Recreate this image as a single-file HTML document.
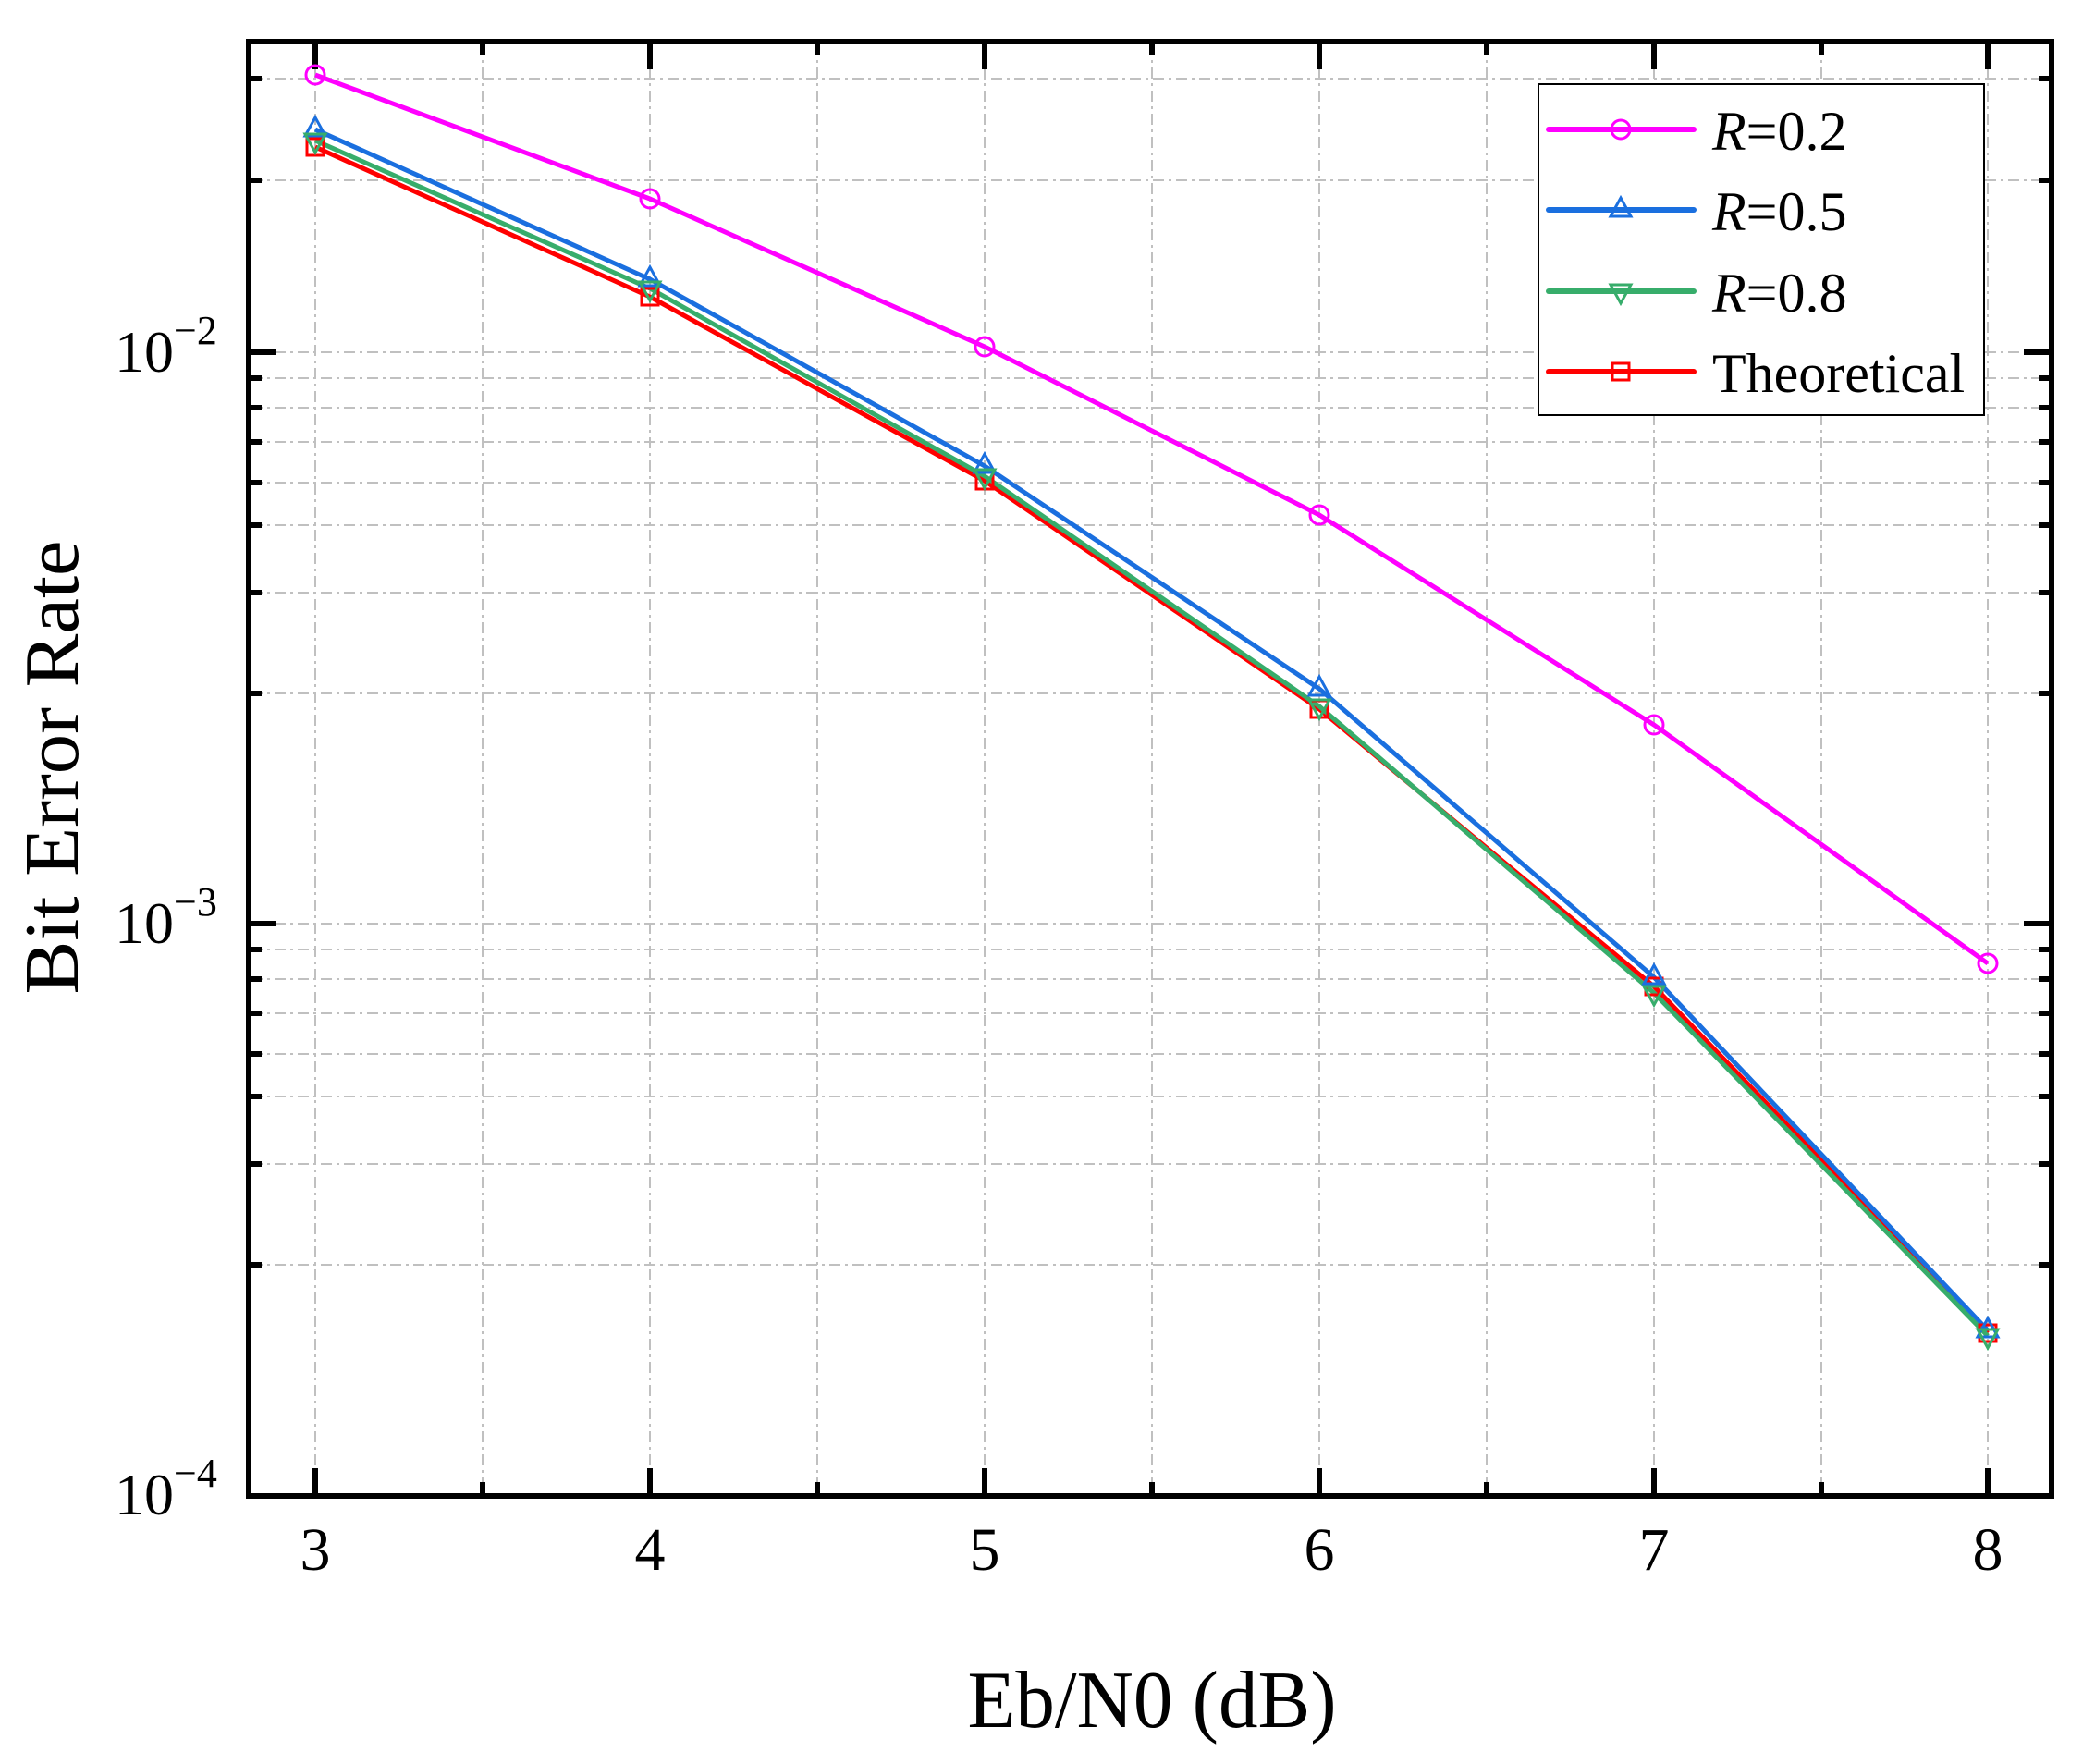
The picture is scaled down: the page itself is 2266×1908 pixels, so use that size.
<!DOCTYPE html>
<html><head><meta charset="utf-8"><style>html,body{margin:0;padding:0;background:#fff}svg{display:block}</style></head>
<body>
<svg width="2266" height="1908" viewBox="0 0 2266 1908" xmlns="http://www.w3.org/2000/svg" font-family="Liberation Serif, serif">
<rect width="2266" height="1908" fill="#fff"/>
<g stroke="#c0c0c0" stroke-width="2" stroke-dasharray="12,5,3,5" fill="none">
<path d="M522 48V1615M884 48V1615M1246 48V1615M1608 48V1615M1970 48V1615"/>
<path d="M341 48V1615M703 48V1615M1065 48V1615M1427 48V1615M1789 48V1615M2150 48V1615"/>
<path d="M272 85H2219M272 195H2219M272 381H2219M272 409H2219M272 441H2219M272 478H2219M272 522H2219M272 568H2219M272 641H2219M272 750H2219M272 999H2219M272 1027H2219M272 1059H2219M272 1096H2219M272 1140H2219M272 1186H2219M272 1259H2219M272 1368H2219"/>
</g>
<g stroke="#000" stroke-width="6" fill="none">
<rect x="269" y="45" width="1950" height="1573"/>
<path d="M341 1618v-30M703 1618v-30M1065 1618v-30M1427 1618v-30M1789 1618v-30M2150 1618v-30M522 1618v-15M884 1618v-15M1246 1618v-15M1608 1618v-15M1970 1618v-15"/>
<path d="M341 45v30M703 45v30M1065 45v30M1427 45v30M1789 45v30M2150 45v30M522 45v15M884 45v15M1246 45v15M1608 45v15M1970 45v15"/>
<path d="M269 381h30M269 999h30M2219 381h-30M2219 999h-30"/>
<path d="M269 85h14M269 195h14M269 409h14M269 441h14M269 478h14M269 522h14M269 568h14M269 641h14M269 750h14M269 1027h14M269 1059h14M269 1096h14M269 1140h14M269 1186h14M269 1259h14M269 1368h14"/>
<path d="M2219 85h-14M2219 195h-14M2219 409h-14M2219 441h-14M2219 478h-14M2219 522h-14M2219 568h-14M2219 641h-14M2219 750h-14M2219 1027h-14M2219 1059h-14M2219 1096h-14M2219 1140h-14M2219 1186h-14M2219 1259h-14M2219 1368h-14"/>
</g>
<g font-size="66" text-anchor="middle" fill="#000">
<text x="341" y="1698">3</text><text x="703" y="1698">4</text><text x="1065" y="1698">5</text><text x="1427" y="1698">6</text><text x="1789" y="1698">7</text><text x="2150" y="1698">8</text>
</g>
<g font-size="64" fill="#000">
<text x="124" y="402">10<tspan font-size="44" dy="-30">−2</tspan></text>
<text x="124" y="1020">10<tspan font-size="44" dy="-30">−3</tspan></text>
<text x="124" y="1638">10<tspan font-size="44" dy="-30">−4</tspan></text>
</g>
<text x="1246" y="1868" font-size="88" text-anchor="middle" textLength="399" lengthAdjust="spacingAndGlyphs">Eb/N0 (dB)</text>
<text transform="translate(84,830) rotate(-90)" font-size="84" text-anchor="middle" textLength="491" lengthAdjust="spacingAndGlyphs">Bit Error Rate</text>
<g fill="none" stroke-width="5" stroke-linejoin="round">
<polyline stroke="#ff00ff" points="341,81 703,215 1065,375 1427,557 1789,784 2150,1042"/>
<polyline stroke="#ff0000" points="341,159 703,321 1065,520 1427,767 1789,1067 2150,1442"/>
<polyline stroke="#1a6fdf" points="341,140 703,302 1065,504 1427,745 1789,1057 2150,1439"/>
<polyline stroke="#37ad6b" points="341,152 703,312 1065,515 1427,764 1789,1074 2150,1445"/>
</g>
<g fill="none" stroke-width="3">
<g stroke="#ff00ff"><circle cx="341" cy="81" r="10"/><circle cx="703" cy="215" r="10"/><circle cx="1065" cy="375" r="10"/><circle cx="1427" cy="557" r="10"/><circle cx="1789" cy="784" r="10"/><circle cx="2150" cy="1042" r="10"/></g>
<g stroke="#ff0000"><rect x="332" y="150" width="18" height="18"/><rect x="694" y="312" width="18" height="18"/><rect x="1056" y="511" width="18" height="18"/><rect x="1418" y="758" width="18" height="18"/><rect x="1780" y="1058" width="18" height="18"/><rect x="2141" y="1433" width="18" height="18"/></g>
<g stroke="#1a6fdf"><path d="M341 127l11 20h-22zM703 289l11 20h-22zM1065 491l11 20h-22zM1427 732l11 20h-22zM1789 1044l11 20h-22zM2150 1426l11 20h-22z"/></g>
<g stroke="#37ad6b"><path d="M341 165l11 -20h-22zM703 325l11 -20h-22zM1065 528l11 -20h-22zM1427 777l11 -20h-22zM1789 1087l11 -20h-22zM2150 1458l11 -20h-22z"/></g>
</g>
<rect x="1664" y="91" width="482" height="358" fill="#fff" stroke="#000" stroke-width="2"/>
<g stroke-width="6" stroke-linecap="round">
<line x1="1675" y1="140" x2="1832" y2="140" stroke="#ff00ff"/>
<line x1="1675" y1="227" x2="1832" y2="227" stroke="#1a6fdf"/>
<line x1="1675" y1="315" x2="1832" y2="315" stroke="#37ad6b"/>
<line x1="1675" y1="402" x2="1832" y2="402" stroke="#ff0000"/>
</g>
<g fill="none" stroke-width="3">
<circle cx="1753" cy="140" r="10" stroke="#ff00ff"/>
<path d="M1753 214l11 20h-22z" stroke="#1a6fdf"/>
<path d="M1753 328l11 -20h-22z" stroke="#37ad6b"/>
<rect x="1744" y="393" width="18" height="18" stroke="#ff0000"/>
</g>
<g font-size="60" fill="#000">
<text x="1852" y="162"><tspan font-style="italic">R</tspan>=0.2</text>
<text x="1852" y="249"><tspan font-style="italic">R</tspan>=0.5</text>
<text x="1852" y="337"><tspan font-style="italic">R</tspan>=0.8</text>
<text x="1852" y="424">Theoretical</text>
</g>
</svg>
</body></html>
